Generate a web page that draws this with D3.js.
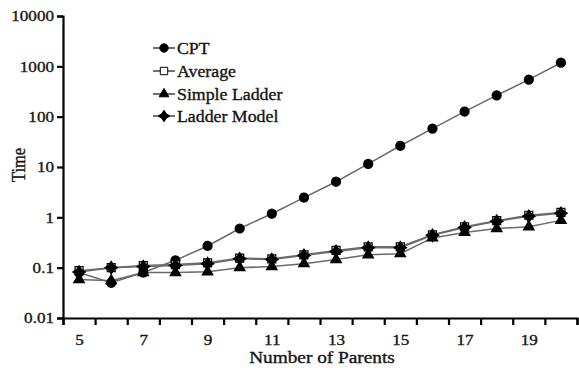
<!DOCTYPE html>
<html>
<head>
<meta charset="utf-8">
<script src="https://cdn.jsdelivr.net/npm/d3@7/dist/d3.min.js"></script>
<style>
  html, body { margin: 0; padding: 0; background: #fff; }
  svg text { font-family: 'Liberation Serif', 'Times New Roman', serif !important; fill: #151515; stroke: #151515; stroke-width: 0.35px; }
</style>
</head>
<body>
<svg id="chart" width="579" height="368"></svg>
<script>
// Number of parents on the x axis
const parents = [5, 6, 7, 8, 9, 10, 11, 12, 13, 14, 15, 16, 17, 18, 19, 20];

// Run time for each method
const cpt          = [0.08, 0.05, 0.08, 0.14, 0.27, 0.6, 1.18, 2.47, 5.1, 11.5, 26.4, 58, 126, 265, 545, 1180];
const average      = [0.087, 0.1, 0.11, 0.115, 0.125, 0.155, 0.15, 0.18, 0.22, 0.26, 0.26, 0.45, 0.65, 0.86, 1.1, 1.25];
const simpleLadder = [0.058, 0.055, 0.08, 0.08, 0.083, 0.1, 0.105, 0.12, 0.145, 0.18, 0.19, 0.39, 0.5, 0.6, 0.65, 0.87];
const ladderModel  = [0.082, 0.1, 0.105, 0.11, 0.12, 0.15, 0.145, 0.175, 0.21, 0.25, 0.25, 0.44, 0.63, 0.84, 1.05, 1.2];

const seriesNames = ["CPT", "Average", "Simple Ladder", "Ladder Model"];
const xLabels = [5, 7, 9, 11, 13, 15, 17, 19];
const yTicks = [0.01, 0.1, 1, 10, 100, 1000, 10000];

const serif = "'Liberation Serif', 'Times New Roman', serif";
const svg = d3.select("#chart");
const plotLeft = 63, plotRight = 577, plotTop = 16, plotBottom = 318;

const x = d3.scaleLinear().domain([4.5, 20.5]).range([plotLeft, plotRight]);
const y = d3.scaleLog().domain([0.01, 10000]).range([plotBottom, plotTop]);

const stretch = 1.14;

// Four-pointed star for the Ladder Model marker
const star4 = {
  draw(ctx, size) {
    const r = Math.sqrt(size) * 0.75, k = r * 0.4;
    ctx.moveTo(0, -r);
    ctx.lineTo(k, -k);
    ctx.lineTo(r, 0);
    ctx.lineTo(k, k);
    ctx.lineTo(0, r);
    ctx.lineTo(-k, k);
    ctx.lineTo(-r, 0);
    ctx.lineTo(-k, -k);
    ctx.closePath();
  }
};

const styles = [
  { values: cpt,          symbol: d3.symbolCircle,   size: 64, fill: "#000", stroke: "#000" },
  { values: average,      symbol: d3.symbolSquare,   size: 64, fill: "#fff", stroke: "#000" },
  { values: simpleLadder, symbol: d3.symbolTriangle, size: 48, fill: "#000", stroke: "#000" },
  { values: ladderModel,  symbol: star4,             size: 70, fill: "#000", stroke: "#000" }
];

// Axes
const yAxis = d3.axisLeft(y).tickValues(yTicks).tickSize(6).tickPadding(3)
  .tickFormat(d => d >= 1 ? d3.format("d")(d) : String(d));
const gy = svg.append("g").attr("transform", `translate(${plotLeft},0)`).call(yAxis);
gy.attr("font-family", null);
gy.select(".domain").attr("stroke", "#000").attr("stroke-width", 2.2);
gy.selectAll(".tick line").attr("stroke", "#000").attr("stroke-width", 2.2);
gy.selectAll(".tick text").style("font-family", serif).style("font-size", "15px")
  .attr("dy", "0.33em").attr("text-anchor", "end")
  .each(function () {
    const t = d3.select(this);
    t.attr("transform", `translate(${+t.attr("x")},0) scale(${stretch},1)`).attr("x", 0);
  });

const boundaries = d3.range(4.5, 20.6, 1);
const gx = svg.append("g").attr("transform", `translate(0,${plotBottom})`)
  .call(d3.axisBottom(x).tickValues(boundaries).tickSize(7).tickFormat(""));
gx.select(".domain").attr("stroke", "#000").attr("stroke-width", 2.2);
gx.selectAll(".tick line").attr("stroke", "#000").attr("stroke-width", 2.2);

const gxl = svg.append("g").attr("transform", `translate(0,${plotBottom})`)
  .call(d3.axisBottom(x).tickValues(xLabels).tickSize(0).tickFormat(d3.format("d")));
gxl.attr("font-family", null);
gxl.select(".domain").remove();
gxl.selectAll(".tick text").style("font-family", serif).style("font-size", "15px")
  .attr("dy", null)
  .attr("transform", `translate(0,27) scale(${stretch},1)`).attr("y", 0);

// Axis titles
svg.append("text").attr("text-anchor", "middle")
  .style("font-family", serif).style("font-size", "16.5px")
  .attr("transform", `translate(322,363) scale(1.17,1)`).text("Number of Parents");
svg.append("text").attr("text-anchor", "middle")
  .style("font-family", serif).style("font-size", "16.5px")
  .attr("transform", "translate(25,165) rotate(-90) scale(1,1.1)").text("Time");

// Series lines and markers
const line = d3.line().x((d, i) => x(parents[i])).y(d => y(d));
styles.forEach(s => {
  svg.append("path").datum(s.values).attr("d", line)
    .attr("fill", "none").attr("stroke", "#6f6867").attr("stroke-width", 1.5);
});
styles.forEach(s => {
  const sym = d3.symbol().type(s.symbol).size(s.size);
  svg.append("g").selectAll("path").data(s.values).join("path")
    .attr("d", sym)
    .attr("transform", (d, i) => `translate(${x(parents[i])},${y(d)})`)
    .attr("fill", s.fill).attr("stroke", s.stroke).attr("stroke-width", 1.2);
});

// Legend
const legendY = [48, 71, 94, 116];
styles.forEach((s, i) => {
  const g = svg.append("g").attr("transform", `translate(153,${legendY[i]})`);
  g.append("line").attr("x1", 0).attr("x2", 22).attr("y1", 0).attr("y2", 0)
    .attr("stroke", "#222").attr("stroke-width", 1.3);
  g.append("path").attr("d", d3.symbol().type(s.symbol).size(s.size * 0.85)())
    .attr("transform", "translate(11,0)")
    .attr("fill", s.fill).attr("stroke", s.stroke).attr("stroke-width", 1);
  g.append("text").attr("dy", "0.35em")
    .style("font-family", serif).style("font-size", "16.5px")
    .attr("transform", `translate(24,0) scale(1.08,1)`).text(seriesNames[i]);
});
</script>
</body>
</html>
